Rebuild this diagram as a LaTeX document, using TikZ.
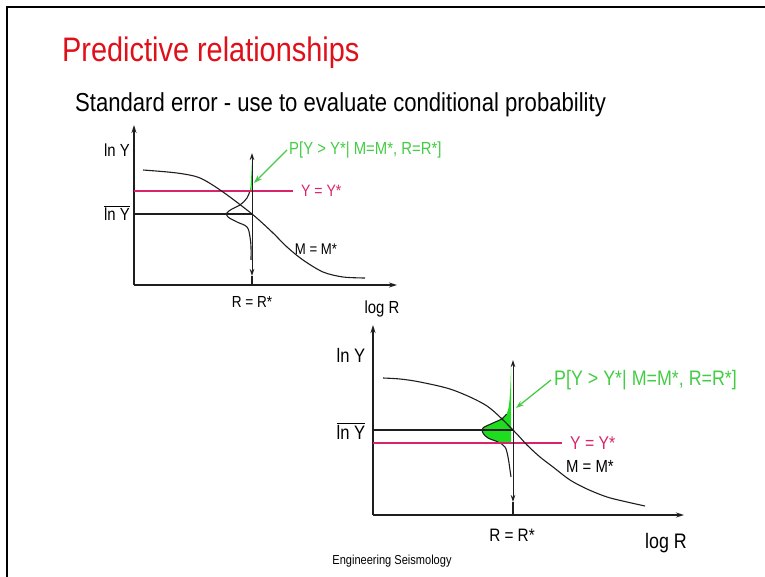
\documentclass[tikz,border=0pt]{standalone}
\usepackage{fontspec}
\setmainfont{Liberation Sans}[FakeStretch=0.85]
\usetikzlibrary{positioning, arrows.meta}
\definecolor{titulo}{HTML}{E0101A}
\definecolor{rosa}{HTML}{D8246A}
\definecolor{relleno}{HTML}{1EDC1E}
\definecolor{etiqueta}{HTML}{44CC44}
\definecolor{linea}{HTML}{1E1E1E}

\begin{document}
\begin{tikzpicture}[x=1pt, y=-1pt,
		txt/.style={inner sep=0pt, font=\fontsize{#1}{#1}\selectfont},
		eje/.style={draw=linea, line width=1.2pt, -{Stealth[length=8pt,width=5pt]}},
		flecha/.style={draw=linea, line width=1pt, {Stealth[length=7pt,width=4.5pt]}-{Stealth[length=7pt,width=4.5pt]}},
		guia/.style={draw=linea, line width=1.1pt},
		roja/.style={rosa, line width=1.2pt},
		senal/.style={etiqueta, line width=1.3pt, -{Stealth[length=8pt,width=5.5pt]}}]
	\useasboundingbox (0,0) rectangle (765,577);
	\draw[line width=2pt] (7,577) -- (7,7.5) -- (765,7.5);
	\node[txt=34, text=titulo, anchor=base west] (titulo) at (62,62) {Predictive relationships};
	\node[txt=26, anchor=base west] (sub) at (75,112) {Standard error - use to evaluate conditional probability};

	% primer grafico
	\coordinate (o1) at (134,285);
	\coordinate (ytop1) at (134,125);
	\coordinate (xend1) at (397,285);
	\coordinate (m1) at (134,214);
	\coordinate (c1) at (252,214);
	\coordinate (r1) at (134,191);
	\coordinate (re1) at (293,191);
	\coordinate (vt1) at (252,153);
	\coordinate (vb1) at (252,276);
	\coordinate (va1) at (252,285);
	\coordinate (pt1) at (254,183);
	\begin{scope}
		\clip (200,140) rectangle (253,191);
		\fill[relleno] plot[smooth, tension=0.6] coordinates {(252,160) (251,180) (250,190) (247,198) (240,205) (232,209) (227,213) (228,217) (237,222) (247,227) (250,237) (251,247) (251,260)} -- cycle;
	\end{scope}
	\begin{scope}
		\clip (200,191) rectangle (253,270);
		\draw[guia] plot[smooth, tension=0.6] coordinates {(252,160) (251,180) (250,190) (247,198) (240,205) (232,209) (227,213) (228,217) (237,222) (247,227) (250,237) (251,247) (251,260)};
	\end{scope}
	\draw[eje] (o1) -- (ytop1);
	\draw[eje] (o1) -- (xend1);
	\draw[guia] (m1) -- (c1);
	\draw[roja] (r1) -- (re1);
	\draw[guia] plot[smooth] coordinates {(143,170) (177,173) (200,178) (223,192) (252,214) (272,232) (287,247) (303,260) (323,272) (343,277) (365,278)};
	\draw[flecha] (vt1) -- (vb1);
	\draw[guia] (vb1) -- (va1);
	\node[txt=17.5] (lny1) at (117,150) {ln Y};
	\node[txt=17.5] (mlny1) at (117,213) {$\overline{\mbox{ln Y}}$};
	\node[txt=16.5, text=rosa, right=8pt of re1] (yy1) {Y = Y*};
	\node[txt=15.5] (mm1) at (316,249) {M = M*};
	\node[txt=16] (rr1) at (252,302) {R = R*};
	\node[txt=17.5] (logr1) at (382,309) {log R};
	\node[txt=17.5, text=etiqueta, anchor=west, inner xsep=2pt] (p1) at (287,150) {P[Y > Y*| M=M*, R=R*]};
	\draw[senal] (p1.west) -- (pt1);

	% segundo grafico
	\coordinate (o2) at (373,515);
	\coordinate (ytop2) at (373,325);
	\coordinate (xend2) at (684,515);
	\coordinate (m2) at (373,430);
	\coordinate (c2) at (513,430);
	\coordinate (r2) at (373,443);
	\coordinate (re2) at (562,443);
	\coordinate (vt2) at (513,360);
	\coordinate (vb2) at (513,502);
	\coordinate (va2) at (513,515);
	\coordinate (pt2) at (516,408);
	\begin{scope}
		\clip (470,355) rectangle (513.5,443);
		\fill[relleno] plot[smooth, tension=0.6] coordinates {(511,367) (510,393) (508,410) (503,418) (493,423) (483,428) (483,433) (488,438) (498,442) (505,447) (508,457) (510,470) (511,477)} -- cycle;
	\end{scope}
	\begin{scope}
		\clip (470,414) rectangle (513,490);
		\draw[guia] plot[smooth, tension=0.6] coordinates {(511,367) (510,393) (508,410) (503,418) (493,423) (483,428) (483,433) (488,438) (498,442) (505,447) (508,457) (510,470) (511,477)};
	\end{scope}
	\draw[eje] (o2) -- (ytop2);
	\draw[eje] (o2) -- (xend2);
	\draw[guia] (m2) -- (c2);
	\draw[roja] (r2) -- (re2);
	\draw[guia] plot[smooth] coordinates {(383,378) (400,379) (420,382) (453,390) (487,406) (513,430) (527,445) (540,457) (553,467) (570,480) (587,489) (607,497) (627,502) (645,506)};
	\draw[flecha] (vt2) -- (vb2);
	\draw[guia] (vb2) -- (va2);
	\node[txt=19.5] (lny2) at (351,355) {ln Y};
	\node[txt=19.5] (mlny2) at (351,431) {$\overline{\mbox{ln Y}}$};
	\node[txt=18.5, text=rosa, right=8pt of re2] (yy2) {Y = Y*};
	\node[txt=17.5, anchor=west] (mm2) at (566,466) {M = M*};
	\node[txt=18] (rr2) at (512,535) {R = R*};
	\node[txt=21] (logr2) at (666,543) {log R};
	\node[txt=21, text=etiqueta, anchor=west, inner xsep=3pt] (p2) at (551,380) {P[Y > Y*| M=M*, R=R*]};
	\draw[senal] (p2.west) -- (pt2);
	\node[txt=13] (pie) at (392,561) {Engineering Seismology};
\end{tikzpicture}
\end{document}
